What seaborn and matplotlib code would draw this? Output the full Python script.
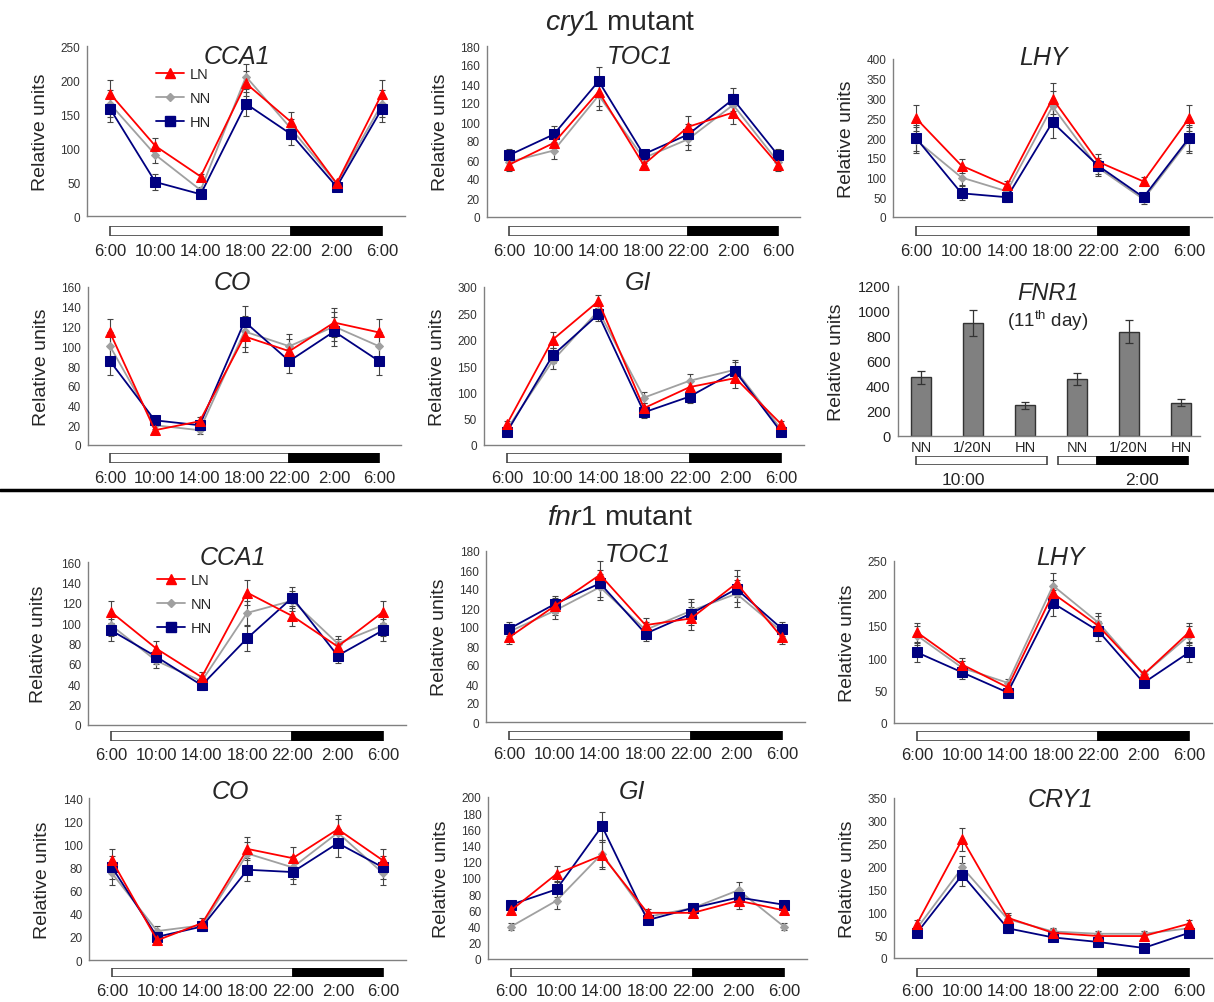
import numpy as np
import pandas as pd
import seaborn as sns
import matplotlib
matplotlib.use("Agg")
import matplotlib.pyplot as plt
from matplotlib.lines import Line2D

W, H = 1214, 1003

# ---- data ----
TIMES = ["6:00", "10:00", "14:00", "18:00", "22:00", "2:00", "6:00"]
LIGHT = (0, 4)   # 6:00 -> 22:00
DARK = (4, 6)    # 22:00 -> 6:00

# cry1 mutant
CRY1_CCA1_LN = [180, 103, 58, 195, 138, 48, 180]
CRY1_CCA1_NN = [165, 90, 38, 205, 128, 48, 165]
CRY1_CCA1_HN = [158, 50, 32, 165, 120, 43, 158]
CRY1_CCA1_ERR = [20, 12, 4, 18, 15, 4, 20]

CRY1_TOC1_LN = [55, 78, 132, 55, 95, 110, 55]
CRY1_TOC1_NN = [58, 70, 128, 62, 82, 118, 58]
CRY1_TOC1_HN = [65, 87, 143, 66, 87, 124, 65]
CRY1_TOC1_ERR = [7, 9, 15, 5, 11, 12, 7]

CRY1_LHY_LN = [250, 130, 80, 300, 140, 90, 250]
CRY1_LHY_NN = [195, 100, 65, 280, 125, 45, 195]
CRY1_LHY_HN = [200, 60, 50, 240, 130, 50, 200]
CRY1_LHY_ERR = [33, 18, 12, 40, 20, 12, 33]

CRY1_CO_LN = [114, 15, 24, 110, 95, 124, 114]
CRY1_CO_NN = [100, 20, 15, 115, 100, 120, 100]
CRY1_CO_HN = [85, 25, 20, 125, 85, 115, 85]
CRY1_CO_ERR = [14, 4, 4, 16, 12, 15, 14]

CRY1_GI_LN = [40, 200, 273, 70, 110, 127, 40]
CRY1_GI_NN = [30, 160, 255, 90, 122, 143, 30]
CRY1_GI_HN = [25, 170, 248, 62, 92, 140, 25]
CRY1_GI_ERR = [5, 15, 12, 10, 12, 18, 5]

FNR1_LABELS = ["NN", "1/20N", "HN", "NN", "1/20N", "HN"]
FNR1_VALUES = [470, 905, 245, 455, 835, 265]
FNR1_ERR = [50, 105, 28, 50, 90, 28]
FNR1_STRIP_WHITE = [(-0.1, 2.42), (2.63, 3.38)]
FNR1_STRIP_BLACK = [(3.38, 5.13)]
FNR1_TIME_LABELS = ["10:00", "2:00"]
FNR1_TIME_POS = [0.81, 4.25]

# fnr1 mutant
FNR1_CCA1_LN = [111, 75, 47, 130, 107, 77, 111]
FNR1_CCA1_NN = [98, 63, 43, 110, 122, 80, 98]
FNR1_CCA1_HN = [93, 67, 39, 85, 125, 68, 93]
FNR1_CCA1_ERR = [11, 7, 5, 12, 10, 7, 11]

FNR1_TOC1_LN = [89, 122, 155, 102, 109, 146, 89]
FNR1_TOC1_NN = [95, 117, 142, 97, 117, 135, 95]
FNR1_TOC1_HN = [98, 124, 146, 93, 114, 140, 98]
FNR1_TOC1_ERR = [7, 9, 14, 8, 12, 14, 7]

FNR1_LHY_LN = [140, 90, 55, 200, 150, 75, 140]
FNR1_LHY_NN = [135, 85, 62, 212, 155, 75, 135]
FNR1_LHY_HN = [109, 78, 47, 185, 142, 62, 109]
FNR1_LHY_ERR = [15, 10, 6, 20, 15, 5, 15]

FNR1_CO_LN = [86, 17, 32, 96, 88, 113, 86]
FNR1_CO_NN = [75, 25, 30, 92, 80, 110, 75]
FNR1_CO_HN = [80, 20, 29, 78, 76, 101, 80]
FNR1_CO_ERR = [10, 4, 4, 10, 10, 12, 10]

FNR1_GI_LN = [60, 105, 128, 57, 57, 72, 60]
FNR1_GI_NN = [40, 72, 130, 52, 63, 85, 40]
FNR1_GI_HN = [67, 86, 164, 48, 63, 76, 67]
FNR1_GI_ERR = [4, 10, 17, 5, 4, 10, 4]

FNR1_CRY1_LN = [75, 260, 88, 55, 48, 48, 75]
FNR1_CRY1_NN = [65, 198, 85, 58, 53, 53, 65]
FNR1_CRY1_HN = [55, 182, 65, 45, 35, 22, 55]
FNR1_CRY1_ERR = [8, 25, 10, 8, 5, 5, 8]

COLORS = {"LN": "#ff0000", "NN": "#a0a0a0", "HN": "#000080"}
MARKERS = {"LN": "^", "NN": "D", "HN": "s"}
MSIZE = {"LN": 6.5, "NN": 4.5, "HN": 6.5}
AXCOL = "#808080"

sns.set_style("white")
plt.rcParams["font.family"] = ["Liberation Sans", "DejaVu Sans"]
plt.rcParams["mathtext.fontset"] = "custom"
plt.rcParams["mathtext.rm"] = "Liberation Sans"
plt.rcParams["mathtext.it"] = "Liberation Sans:italic"

fig = plt.figure(figsize=(W / 100, H / 100), dpi=100)


def px_axes(left, right, top, bottom):
    return fig.add_axes([left / W, 1 - bottom / H, (right - left) / W, (bottom - top) / H])


def style_axes(ax, ylab_off):
    sns.despine(ax=ax)
    for s in ("left", "bottom"):
        ax.spines[s].set_color(AXCOL)
        ax.spines[s].set_linewidth(1)
    ax.tick_params(axis="y", direction="out", length=3, color=AXCOL,
                   labelsize=8.5, labelcolor="#333333", pad=2)
    ax.set_ylabel("Relative units", fontsize=14)
    w = ax.get_position().width * W
    ax.yaxis.set_label_coords(-ylab_off / w, 0.5)
    ax.set_xlabel("")


def time_strip(x_left, x_right, top, bottom, xlim, pad):
    sax = px_axes(x_left, x_right, top, bottom)
    sax.barh(0, LIGHT[1] - LIGHT[0], left=LIGHT[0], height=1, color="white",
             edgecolor="#444444", lw=1.2)
    sax.barh(0, DARK[1] - DARK[0], left=DARK[0], height=1, color="black",
             edgecolor="black", lw=1.2)
    sax.set_xlim(*xlim)
    sax.set_ylim(-0.55, 0.55)
    sax.set_xticks(range(len(TIMES)))
    sax.set_xticklabels(TIMES, fontsize=12)
    sax.tick_params(length=0, pad=pad)
    sax.set_yticks([])
    sax.patch.set_alpha(0)
    for s in sax.spines.values():
        s.set_visible(False)


def line_panel(title, ln, nn, hn, err, ymax, ystep, x0, x6, ytop, ybot,
               strip, title_xy, legend_at=None, ylab_off=38, lab_pad=5):
    sp = (x6 - x0) / 6.0
    ax = px_axes(x0 - 0.5 * sp, x6 + 0.5 * sp, ytop, ybot)
    pos = np.arange(7)
    order = ["NN", "HN", "LN"]
    vals = {"LN": ln, "NN": nn, "HN": hn}
    df = pd.DataFrame({
        "pos": np.tile(pos, 3),
        "value": np.concatenate([vals[k] for k in order]),
        "series": np.repeat(order, 7),
    })
    for k in order:
        ax.errorbar(pos, vals[k], yerr=err, fmt="none", ecolor="#444444",
                    elinewidth=0.8, capsize=2, capthick=0.8, zorder=1)
    sns.lineplot(data=df, x="pos", y="value", hue="series", style="series",
                 hue_order=order, style_order=order, palette=COLORS,
                 markers=MARKERS, dashes=False, sort=False, lw=1.3,
                 legend=False, ax=ax, zorder=3)
    for line, k in zip(ax.lines[-3:], order):
        line.set_markeredgecolor(COLORS[k])
        line.set_markersize(MSIZE[k])
    ax.set_xlim(-0.5, 6.5)
    ax.set_ylim(0, ymax)
    ax.set_yticks(np.arange(0, ymax + 1, ystep))
    ax.set_xticks(np.arange(0.5, 6, 1))
    ax.set_xticklabels([])
    ax.tick_params(axis="x", direction="in", length=4, color=AXCOL)
    style_axes(ax, ylab_off)
    fig.text(title_xy[0] / W, 1 - title_xy[1] / H, title, fontsize=18,
             style="italic", ha="center", va="center")
    time_strip(x0 - 0.5 * sp, x6 + 0.5 * sp, strip[0], strip[1], (-0.5, 6.5), lab_pad)
    if legend_at is not None:
        handles = [Line2D([], [], color=COLORS[k], marker=MARKERS[k],
                          markersize=MSIZE[k], mec=COLORS[k], lw=1.3)
                   for k in ["LN", "NN", "HN"]]
        fig.legend(handles, ["LN", "NN", "HN"], loc="upper left",
                   bbox_to_anchor=(legend_at[0] / W, 1 - legend_at[1] / H),
                   frameon=False, fontsize=10.5, handlelength=1.9,
                   handletextpad=0.4, labelspacing=0.7, borderpad=0,
                   borderaxespad=0)
    return ax


# ---- cry1 mutant ----
fig.text(620 / W, 1 - 24 / H, r"$\it{cry1}$ mutant", fontsize=20.5,
         ha="center", va="center")
line_panel("CCA1", CRY1_CCA1_LN, CRY1_CCA1_NN, CRY1_CCA1_HN, CRY1_CCA1_ERR,
           250, 50, 110, 382, 47, 217, (227, 237), (237, 57), legend_at=(156, 68))
line_panel("TOC1", CRY1_TOC1_LN, CRY1_TOC1_NN, CRY1_TOC1_HN, CRY1_TOC1_ERR,
           180, 20, 509, 778, 47, 218, (227, 237), (640, 57))
line_panel("LHY", CRY1_LHY_LN, CRY1_LHY_NN, CRY1_LHY_HN, CRY1_LHY_ERR,
           400, 50, 916, 1189, 60, 218, (227, 237), (1043, 58))
line_panel("CO", CRY1_CO_LN, CRY1_CO_NN, CRY1_CO_HN, CRY1_CO_ERR,
           160, 20, 110, 379, 288, 446, (454, 464), (232, 283))
line_panel("GI", CRY1_GI_LN, CRY1_GI_NN, CRY1_GI_HN, CRY1_GI_ERR,
           300, 50, 507, 781, 288, 446, (454, 464), (638, 283))

# FNR1 bar panel
bx0, bx5 = 921, 1181
bsp = (bx5 - bx0) / 5.0
bxlim = (-0.45, 5.37)
bax = px_axes(bx0 + bxlim[0] * bsp, bx0 + bxlim[1] * bsp, 287, 437)
bpos = np.arange(len(FNR1_VALUES))
sns.barplot(x=bpos, y=FNR1_VALUES, color="#808080", saturation=1,
            edgecolor="#333333", linewidth=1, width=0.4, errorbar=None, ax=bax)
bax.errorbar(bpos, FNR1_VALUES, yerr=FNR1_ERR, fmt="none", ecolor="#333333",
             elinewidth=0.9, capsize=3, capthick=0.9)
bax.set_xlim(*bxlim)
bax.set_ylim(0, 1200)
bax.set_yticks(np.arange(0, 1201, 200))
bax.set_xticks(bpos)
bax.set_xticklabels(FNR1_LABELS, fontsize=10.5)
bax.tick_params(axis="x", length=0, pad=3)
style_axes(bax, 53)
bax.tick_params(axis="y", labelsize=10.5, labelcolor="#222222")
fig.text(1048 / W, 1 - 294 / H, "FNR1", fontsize=17, style="italic",
         ha="center", va="center")
fig.text(1048 / W, 1 - 321 / H, r"(11$^{\rm th}$ day)", fontsize=13.5,
         ha="center", va="center")

sax = px_axes(bx0 + bxlim[0] * bsp, bx0 + bxlim[1] * bsp, 457, 466)
for a, b in FNR1_STRIP_WHITE:
    sax.barh(0, b - a, left=a, height=1, color="white", edgecolor="#444444", lw=1.2)
for a, b in FNR1_STRIP_BLACK:
    sax.barh(0, b - a, left=a, height=1, color="black", edgecolor="black", lw=1.2)
sax.set_xlim(*bxlim)
sax.set_ylim(-0.55, 0.55)
sax.set_xticks(FNR1_TIME_POS)
sax.set_xticklabels(FNR1_TIME_LABELS, fontsize=12.5)
sax.tick_params(length=0, pad=5)
sax.set_yticks([])
sax.patch.set_alpha(0)
for s in sax.spines.values():
    s.set_visible(False)

# separator
fig.add_artist(Line2D([0, 1], [1 - 491 / H, 1 - 491 / H], color="black",
                      lw=2.5, transform=fig.transFigure))

# ---- fnr1 mutant ----
fig.text(620 / W, 1 - 518 / H, r"$\it{fnr1}$ mutant", fontsize=20.5,
         ha="center", va="center")
line_panel("CCA1", FNR1_CCA1_LN, FNR1_CCA1_NN, FNR1_CCA1_HN, FNR1_CCA1_ERR,
           160, 20, 111, 383, 563, 726, (732, 742), (233, 558),
           legend_at=(157, 574), ylab_off=41, lab_pad=4)
line_panel("TOC1", FNR1_TOC1_LN, FNR1_TOC1_NN, FNR1_TOC1_HN, FNR1_TOC1_ERR,
           180, 20, 509, 782, 552, 723, (732, 741), (638, 555), lab_pad=4)
line_panel("LHY", FNR1_LHY_LN, FNR1_LHY_NN, FNR1_LHY_HN, FNR1_LHY_ERR,
           250, 50, 917, 1189, 562, 724, (732, 742), (1060, 558), lab_pad=4)
line_panel("CO", FNR1_CO_LN, FNR1_CO_NN, FNR1_CO_HN, FNR1_CO_ERR,
           140, 20, 112, 383, 799, 961, (969, 978), (230, 792), lab_pad=4)
line_panel("GI", FNR1_GI_LN, FNR1_GI_NN, FNR1_GI_HN, FNR1_GI_ERR,
           200, 20, 511, 784, 798, 960, (969, 978), (632, 792), lab_pad=4)
line_panel("CRY1", FNR1_CRY1_LN, FNR1_CRY1_NN, FNR1_CRY1_HN, FNR1_CRY1_ERR,
           350, 50, 917, 1189, 799, 959, (969, 978), (1060, 800), lab_pad=4)

fig.savefig("out.png", dpi=100)
